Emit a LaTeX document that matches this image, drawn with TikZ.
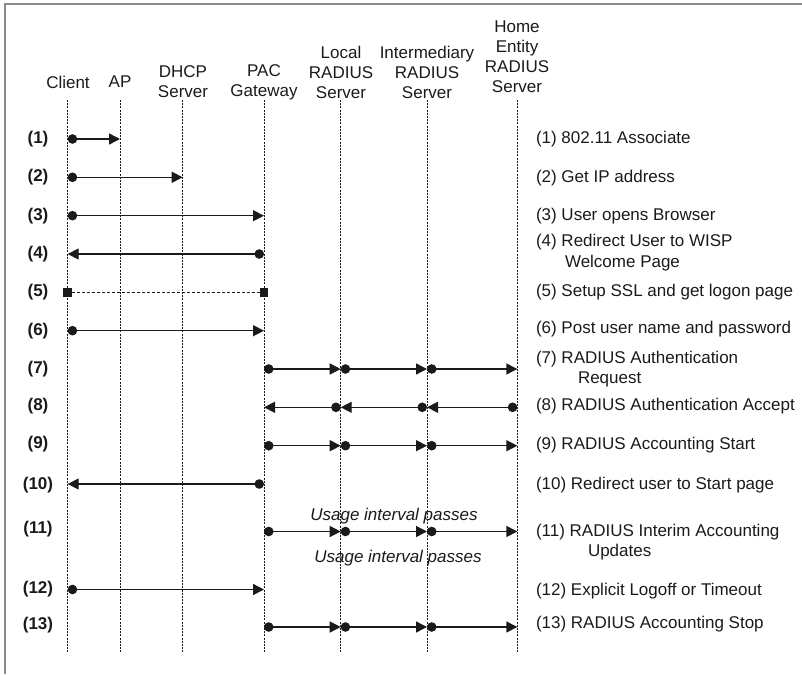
\documentclass[tikz,border=0pt]{standalone}
\usepackage{fontspec}
\setmainfont{Liberation Sans}
\usetikzlibrary{arrows.meta}
\definecolor{ink}{HTML}{1A1A1A}
\definecolor{framegray}{HTML}{8C8C8C}
\begin{document}
\begin{tikzpicture}[x=1pt,y=-1pt,
  every node/.style={inner sep=0pt, outer sep=0pt, text=ink},
  hdr/.style={align=center, font=\fontsize{17}{20}\selectfont},
  num/.style={font=\fontsize{17}{20}\selectfont\bfseries},
  desc/.style={anchor=west, align=left, font=\fontsize{17}{20.5}\selectfont},
  note/.style={font=\fontsize{17}{20}\selectfont\itshape},
  life/.style={draw=ink, line width=0.8pt, dash pattern=on 2pt off 1.2pt},
  msg/.style={draw=ink, line width=1.4pt,
    {Circle[length=9.5pt]}-{Triangle[length=11pt,width=11pt]}},
  sq/.style={fill=ink, minimum size=8.5pt, inner sep=0pt},
  sslline/.style={draw=ink, line width=0.8pt, dash pattern=on 3pt off 2pt},
]
\useasboundingbox (0,0) rectangle (802,674);

% frame
\draw[framegray, line width=1.4pt] (5,674) -- (5,4) -- (802,4);

% participants
\node[hdr] (hclient) at (68,82) {Client};
\node[hdr] (hap)     at (120,82) {AP};
\node[hdr] (hdhcp)   at (183,82) {DHCP\\Server};
\node[hdr] (hpac)    at (264,82) {PAC\\Gateway};
\node[hdr] (hlocal)  at (341,72) {Local\\RADIUS\\Server};
\node[hdr] (hinter)  at (427,72) {Intermediary\\RADIUS\\Server};
\node[hdr] (hhome)   at (517,57) {Home\\Entity\\RADIUS\\Server};

% lifelines
\foreach \n/\x in {client/67.7, ap/120, dhcp/182.7, pac/264, local/340.7, inter/427, home/517.3} {
  \coordinate (\n) at (\x,100);
  \coordinate (\n-end) at (\x,653);
  \draw[life] (\n) -- (\n-end);
}

% message rows
\foreach \r/\y in {1/139, 2/177.3, 3/215.7, 4/254, 5/292.3, 6/330.7, 7/369,
                   8/407.3, 9/445.7, 10/484, 11/531.5, 12/589.5, 13/627} {
  \coordinate (r\r) at (0,\y);
}

% step numbers
\foreach \r/\y in {1/139, 2/177.3, 3/215.7, 4/254, 5/292.3, 6/330.7, 7/369,
                   8/406, 9/444, 10/485, 11/529.3, 12/589, 13/625} {
  \node[num] (n\r) at (38,\y) {(\r)};
}

% messages
\draw[msg] (client |- r1) -- (ap |- r1);
\draw[msg] (client |- r2) -- (dhcp |- r2);
\draw[msg] (client |- r3) -- (pac |- r3);
\draw[msg] (pac |- r4) -- (client |- r4);

\node[sq] (s5a) at (client |- r5) {};
\node[sq] (s5b) at (pac |- r5) {};
\draw[sslline] (s5a) -- (s5b);

\draw[msg] (client |- r6) -- (pac |- r6);

\foreach \r in {7,9,11,13} {
  \draw[msg] (pac |- r\r) -- (local |- r\r);
  \draw[msg] (local |- r\r) -- (inter |- r\r);
  \draw[msg] (inter |- r\r) -- (home |- r\r);
}
\draw[msg] (home |- r8) -- (inter |- r8);
\draw[msg] (inter |- r8) -- (local |- r8);
\draw[msg] (local |- r8) -- (pac |- r8);

\draw[msg] (pac |- r10) -- (client |- r10);
\draw[msg] (client |- r12) -- (pac |- r12);

% interim accounting notes
\node[note] (u1) at (394,516) {Usage interval passes};
\node[note] (u2) at (398,558) {Usage interval passes};

% step descriptions
\node[desc] (d1)  at (536,139) {(1) 802.11 Associate};
\node[desc] (d2)  at (536,178) {(2) Get IP address};
\node[desc] (d3)  at (536,216.5) {(3) User opens Browser};
\node[desc] (d4)  at (536,252.5) {(4) Redirect User to WISP\\\hspace*{29pt}Welcome Page};
\node[desc] (d5)  at (536,291.7) {(5) Setup SSL and get logon page};
\node[desc] (d6)  at (536,329) {(6) Post user name and password};
\node[desc] (d7)  at (536,369) {(7) RADIUS Authentication\\\hspace*{42pt}Request};
\node[desc] (d8)  at (536,405.7) {(8) RADIUS Authentication Accept};
\node[desc] (d9)  at (536,445) {(9) RADIUS Accounting Start};
\node[desc] (d10) at (536,485) {(10) Redirect user to Start page};
\node[desc] (d11) at (536,542.3) {(11) RADIUS Interim Accounting\\\hspace*{52pt}Updates};
\node[desc] (d12) at (536,590.7) {(12) Explicit Logoff or Timeout};
\node[desc] (d13) at (536,624) {(13) RADIUS Accounting Stop};
\end{tikzpicture}
\end{document}
